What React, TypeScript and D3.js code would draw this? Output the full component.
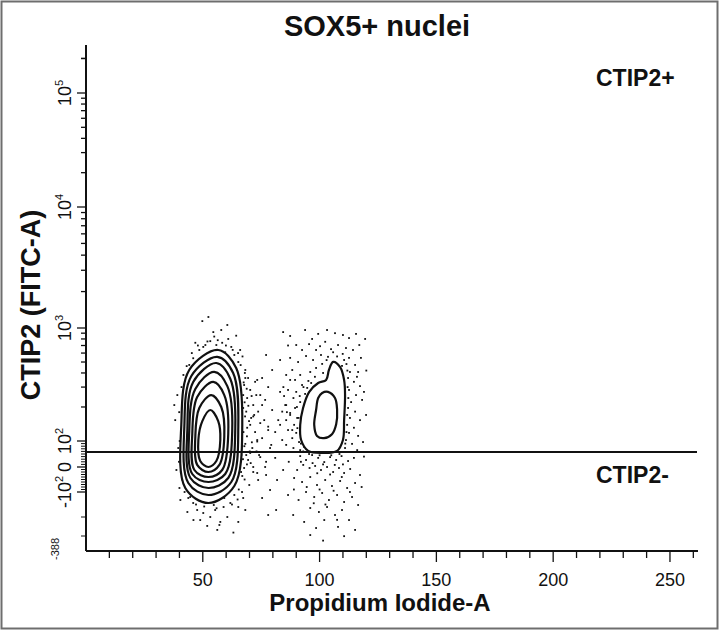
import React, { useEffect, useRef } from 'react';
import * as d3 from 'd3';

type Pt = [number, number];

// PI-A (linear) vs CTIP2 FITC-A (biexponential) values
const xMajorTicks = [50, 100, 150, 200, 250];
const xMinorTicks = [10, 20, 30, 40, 60, 70, 80, 90, 110, 120, 130, 140, 160, 170, 180, 190, 210, 220, 230, 240, 260];
const yDecades = [100, 1000, 10000, 100000];
const yDecadeLabels = [['10', '2'], ['10', '3'], ['10', '4'], ['10', '5']];
const yNegTicks = [-100];
const yMinorLinear = [-90, -80, -70, -60, -50, -40, -30, -20, -10, 10, 20, 30, 40, 50, 60, 70, 80, 90, -200, -300];
const gateValue = 58;

// G1 peak contour rings (outer -> inner)
const g1Rings: Pt[][] = [
  [[56.6, 639], [64.3, 442], [66.9, 139], [63.5, -76], [52.4, -144], [42.5, -84], [40.8, 139], [44.2, 425]],
  [[56.2, 556], [63.0, 400], [65.2, 134], [62.2, -60], [52.4, -112], [43.8, -64], [42.1, 134], [45.1, 376]],
  [[55.8, 490], [61.8, 354], [63.9, 128], [60.9, -44], [52.4, -84], [44.7, -44], [43.4, 128], [45.9, 333]],
  [[54.9, 409], [60.5, 306], [62.6, 123], [59.6, -28], [52.4, -60], [45.5, -28], [44.2, 123], [46.8, 289]],
  [[54.5, 333], [59.2, 255], [60.9, 116], [58.3, -12], [52.4, -40], [46.4, -12], [45.5, 116], [47.6, 245]],
  [[53.6, 255], [57.9, 200], [59.2, 109], [57.1, 8], [52.4, -20], [47.6, 8], [46.8, 109], [48.5, 196]],
  [[53.2, 188], [56.6, 150], [57.5, 102], [55.8, 23], [52.4, 0], [48.9, 23], [48.1, 102], [49.8, 150]],
];

// G2 peak contour rings (outer -> inner)
const g2Rings: Pt[][] = [
  [[105.8, 501], [108.8, 450], [110.5, 347], [110.9, 255], [110.5, 153], [110.0, 102], [107.5, 62], [101.1, 54],
   [95.1, 62], [92.1, 102], [91.7, 139], [92.9, 195], [95.5, 271], [99.4, 326], [102.8, 347], [104.0, 425]],
  [[103.6, 272], [106.6, 240], [107.5, 188], [107.1, 141], [105.3, 115], [101.9, 106], [98.9, 111], [97.7, 139],
   [98.5, 188], [99.4, 240], [101.1, 266]],
];

// outlier events around G1
const g1Dots: Pt[] = [
  [52.4, 1233], [49.8, 1140], [60.5, 1059], [54.5, 920], [57.9, 960], [46.8, 740], [53.2, 765], [58.3, 740],
  [60.9, 800], [62.2, 680], [50.2, 680], [55.8, 707], [45.9, 540], [48.5, 639], [59.6, 610], [63.5, 577],
  [44.2, 471], [65.2, 500], [51.1, 707], [54.9, 840], [64.3, 855], [66.0, 639],
  [68.2, 425], [69.4, 361], [67.7, 313], [70.3, 283], [72.4, 334], [69.0, 240], [71.6, 208], [74.6, 255],
  [68.6, 182], [70.7, 160], [73.7, 182], [76.3, 153], [69.0, 131], [72.4, 120], [75.4, 106], [68.2, 89],
  [71.2, 73], [74.1, 46], [69.4, 27], [67.7, -4], [71.6, -20], [77.1, 20], [78.8, 73], [78.0, 125],
  [67.3, 255], [68.6, 46], [66.9, -36], [73.7, -52], [69.9, -72], [77.1, -32], [66.5, 106], [67.3, 196],
  [70.3, 139], [73.3, 98], [72.9, 255], [75.4, 208], [68.2, 361], [66.5, 46],
  [39.1, 255], [38.2, 153], [39.5, 73], [38.7, -12], [40.0, -84], [37.8, 208], [41.7, 384], [40.4, -132], [42.9, 347],
  [45.9, -144], [47.6, -172], [50.2, -184], [53.2, -200], [55.3, -172], [57.5, -226], [61.8, -144], [65.2, -160],
  [60.5, -200], [56.2, -268], [48.9, -216], [65.2, -226], [43.8, -124], [59.2, -124], [63.5, -112], [67.3, -124],
  [51.9, -247], [43.4, -180], [68.2, -172], [63.1, -282], [54.7, -152], [46.0, -216], [57.1, -242],
  [67.0, 560], [66.2, 470], [68.0, 400], [67.5, 330], [68.8, 290], [67.9, 220], [69.5, 205], [68.1, 165],
  [69.8, 150], [67.4, 120], [68.9, 110], [67.8, 80], [70.1, 60], [67.2, 30], [68.9, 10], [66.4, -20],
  [67.9, -50], [65.4, -90], [66.8, -100], [64.9, -130], [62.5, -150], [58.9, -160], [55.9, -165], [50.6, -158],
  [47.1, -150], [44.6, -120], [42.2, -100], [41.1, -50], [39.8, 20], [40.1, 100], [39.9, 180], [40.9, 300],
  [43.1, 460], [45.3, 600], [47.9, 700], [52.0, 760], [56.4, 780], [59.9, 700], [62.8, 640], [65.1, 600],
  [70.9, 250], [72.0, 170], [71.0, 95], [73.0, 60], [70.5, 15],
];

// sparse events between the two peaks
const bridgeDots: Pt[] = [
  [75.4, 361], [78.0, 300], [73.3, 347], [76.7, 231], [71.6, 165], [74.6, 144], [78.0, 134], [73.3, 102],
  [70.3, 54], [74.6, 38], [71.6, 0], [76.7, 0], [81.8, -52], [73.3, -24], [81.0, 35], [84.0, 102],
  [82.3, 153], [85.3, 208], [83.1, 272], [79.7, 188], [81.0, 120], [84.4, -12], [78.8, -92], [75.4, -124],
  [86.5, -112], [81.4, -172], [79.7, 425], [87.4, 347], [77.1, 577], [83.1, 521], [79.3, 85], [86.1, 58],
  [88.3, 125], [87.4, 170], [78.0, -192],
];

// outlier events around G2
const g2Dots: Pt[] = [
  [84.4, 920], [87.4, 850], [93.8, 960], [96.8, 800], [99.4, 887], [103.2, 960], [106.6, 900], [110.0, 867],
  [112.6, 815], [115.6, 887], [90.0, 707], [92.5, 639], [95.5, 720], [100.2, 690], [102.4, 755], [107.9, 707],
  [111.3, 665], [114.3, 639], [117.0, 707], [87.4, 544], [90.8, 500], [94.2, 565], [97.2, 521], [100.6, 577],
  [103.6, 556], [112.6, 544], [115.2, 471], [117.7, 544], [110.5, 521], [98.5, 443], [101.1, 481], [109.6, 462],
  [113.0, 408], [116.5, 408], [88.3, 425], [91.7, 384], [85.7, 384], [96.0, 408], [105.8, 610], [98.5, 639],
  [89.5, 347], [92.5, 313], [86.5, 283], [90.0, 272], [93.8, 261], [88.8, 240], [91.7, 221], [85.7, 208],
  [89.5, 196], [87.4, 177], [90.4, 160], [85.7, 153], [89.1, 139], [86.5, 125], [90.0, 118], [88.3, 106],
  [91.2, 96], [85.7, 85], [88.8, 73], [91.7, 65], [93.4, 77], [84.0, 182], [83.1, 139], [84.8, 250],
  [94.7, 295], [96.4, 326],
  [112.2, 361], [114.7, 334], [117.3, 306], [112.6, 283], [115.6, 255], [113.5, 221], [118.2, 231], [112.2, 196],
  [115.2, 182], [113.0, 160], [117.3, 153], [111.8, 139], [114.7, 131], [112.6, 118], [116.5, 111], [111.3, 102],
  [113.9, 89], [110.9, 73], [116.1, 65], [118.6, 96], [119.9, 170], [119.0, 272],
  [91.7, 42], [94.2, 27], [96.8, 46], [99.4, 35], [102.0, 19], [104.5, 38], [107.1, 27], [109.4, 42],
  [112.2, 23], [114.7, 35], [93.0, 8], [95.7, -4], [98.1, 4], [100.6, -12], [103.2, 0], [105.8, -20],
  [108.3, -4], [110.5, -24], [113.1, -8], [90.4, -12], [89.1, -44], [92.5, -60], [96.0, -40], [98.9, -72],
  [102.4, -52], [105.3, -76], [108.8, -56], [111.8, -84], [115.2, -64], [117.3, -32], [94.2, -100], [97.7, -120],
  [101.1, -104], [104.0, -132], [107.5, -112], [110.5, -140], [113.9, -120], [91.0, -132], [96.0, -164], [99.7, -180],
  [103.2, -160], [106.6, -192], [109.6, -172], [116.5, -152], [88.7, -192], [93.4, -226], [98.5, -258], [102.0, -216],
  [107.9, -252], [112.6, -216], [115.2, -268], [101.5, -327], [96.0, -295], [110.5, -301],
  [91.0, 160], [90.3, 200], [91.5, 250], [93.1, 300], [95.2, 340], [98.0, 370], [101.5, 400], [103.0, 520],
  [104.9, 650], [107.5, 560], [109.9, 590], [111.5, 480], [111.9, 420], [112.0, 300], [112.3, 240], [111.8, 170],
  [111.5, 120], [111.0, 90], [108.5, 50], [105.0, 45], [100.0, 45], [95.5, 50], [93.0, 60], [92.0, 90],
  [90.5, 130], [97.0, 15], [101.5, 10], [106.5, 8], [110.0, 10], [92.0, 20], [99.0, -25], [104.5, -30],
  [109.5, -40], [94.5, -80], [100.0, -90], [106.0, -95], [113.0, -100], [97.5, -145], [102.5, -150], [107.5, -215],
  [119.0, 40], [118.0, -80], [89.0, -90], [86.8, 20], [86.0, 180], [84.5, 300], [116.0, 370], [120.0, 420],
  [86.5, 700], [119.5, 800],
];

const FONT = "'Liberation Sans', Arial, Helvetica, sans-serif";

const App: React.FC = () => {
  const svgRef = useRef<SVGSVGElement>(null);

  useEffect(() => {
    if (!svgRef.current) return;
    const svg = d3.select(svgRef.current);
    svg.selectAll('*').remove();

    const left = 86, right = 698, top = 45, bottom = 551;
    const x = d3.scaleLinear().domain([0, 262]).range([left, right]);
    // biexponential axis: log part above 10^2, near-linear part around zero
    const yLog = d3.scaleLog().domain([100, 1e3, 1e4, 1e5, 262143]).range([441, 328, 207, 93, top]);
    const yLin = d3.scaleLinear().domain([-388, -300, -200, -100, 0, 100]).range([bottom, 536, 517, 492, 467, 441]);
    const y = (v: number) => (v >= 100 ? yLog(v) : yLin(v));

    // outer frame
    svg.append('rect')
      .attr('x', 1.5).attr('y', 1.5).attr('width', 716).attr('height', 627)
      .attr('fill', 'white').attr('stroke', '#6e6e6e').attr('stroke-width', 2);

    // events
    const dots = [...g1Dots, ...bridgeDots, ...g2Dots];
    svg.append('g').selectAll('rect').data(dots).join('rect')
      .attr('x', d => x(d[0]) - 0.9).attr('y', d => y(d[1]) - 0.9)
      .attr('width', 1.8).attr('height', 1.8).attr('fill', '#111');

    const line = d3.line<Pt>()
      .x(d => x(d[0])).y(d => y(d[1]))
      .curve(d3.curveCatmullRomClosed.alpha(0.5));

    const contours = svg.append('g');
    [g1Rings[0], g2Rings[0]].forEach(r => {
      contours.append('path').attr('d', line(r)!).attr('fill', 'white');
    });
    [...g1Rings, ...g2Rings].forEach(r => {
      contours.append('path').attr('d', line(r)!)
        .attr('fill', 'none').attr('stroke', '#111').attr('stroke-width', 2.2);
    });

    // gate line
    svg.append('line')
      .attr('x1', left).attr('x2', right - 1).attr('y1', y(gateValue)).attr('y2', y(gateValue))
      .attr('stroke', '#111').attr('stroke-width', 2);

    // x axis
    const xa = svg.append('g').attr('stroke', '#111');
    xa.append('line').attr('x1', left).attr('x2', right).attr('y1', bottom).attr('y2', bottom).attr('stroke-width', 2);
    xMinorTicks.forEach(t => {
      xa.append('line').attr('x1', x(t)).attr('x2', x(t)).attr('y1', bottom).attr('y2', bottom + 7).attr('stroke-width', 1.3);
    });
    xMajorTicks.forEach(t => {
      xa.append('line').attr('x1', x(t)).attr('x2', x(t)).attr('y1', bottom).attr('y2', bottom + 11).attr('stroke-width', 1.3);
    });
    svg.append('g').selectAll('text').data(xMajorTicks).join('text')
      .attr('x', d => x(d)).attr('y', 586)
      .attr('text-anchor', 'middle').attr('font-family', FONT).attr('font-size', 18).attr('fill', '#111')
      .text(d => d);

    // y axis
    const ya = svg.append('g').attr('stroke', '#111');
    ya.append('line').attr('x1', left).attr('x2', left).attr('y1', top).attr('y2', bottom).attr('stroke-width', 2);
    const logMinor: number[] = [];
    yDecades.forEach(dec => {
      for (let k = 2; k <= 9; k++) {
        if (dec * k <= 262143) logMinor.push(dec * k);
      }
    });
    logMinor.push(200000);
    logMinor.forEach(v => {
      ya.append('line').attr('x1', left - 5).attr('x2', left).attr('y1', yLog(v)).attr('y2', yLog(v)).attr('stroke-width', 1.3);
    });
    yMinorLinear.forEach(v => {
      ya.append('line').attr('x1', left - 5).attr('x2', left).attr('y1', yLin(v)).attr('y2', yLin(v)).attr('stroke-width', 1);
    });
    [...yDecades, 0, ...yNegTicks].forEach(v => {
      ya.append('line').attr('x1', left - 9).attr('x2', left).attr('y1', y(v)).attr('y2', y(v)).attr('stroke-width', 1.3);
    });

    const tickLabel = (v: number, base: string, exp: string) => {
      const t = svg.append('text')
        .attr('transform', `translate(71,${y(v)}) rotate(-90)`)
        .attr('text-anchor', 'middle').attr('font-family', FONT).attr('font-size', 18).attr('fill', '#111');
      t.append('tspan').text(base);
      if (exp) t.append('tspan').attr('dy', -8).attr('font-size', 11).text(exp);
    };
    yDecades.forEach((v, i) => tickLabel(v, yDecadeLabels[i][0], yDecadeLabels[i][1]));
    tickLabel(0, '0', '');
    tickLabel(-100, '-10', '2');
    svg.append('text')
      .attr('transform', `translate(59,${bottom - 2}) rotate(-90)`)
      .attr('text-anchor', 'middle').attr('font-family', FONT).attr('font-size', 11).attr('fill', '#111')
      .text('-388');

    // titles
    svg.append('text').attr('x', 377).attr('y', 36).attr('text-anchor', 'middle')
      .attr('font-family', FONT).attr('font-weight', 'bold').attr('font-size', 29).attr('fill', '#111')
      .text('SOX5+ nuclei');
    svg.append('text').attr('x', 380).attr('y', 611).attr('text-anchor', 'middle')
      .attr('font-family', FONT).attr('font-weight', 'bold').attr('font-size', 24).attr('fill', '#111')
      .text('Propidium Iodide-A');
    svg.append('text').attr('transform', 'translate(40,305) rotate(-90)').attr('text-anchor', 'middle')
      .attr('font-family', FONT).attr('font-weight', 'bold').attr('font-size', 27).attr('fill', '#111')
      .text('CTIP2 (FITC-A)');
    svg.append('text').attr('x', 596).attr('y', 86)
      .attr('font-family', FONT).attr('font-weight', 'bold').attr('font-size', 23).attr('fill', '#111')
      .text('CTIP2+');
    svg.append('text').attr('x', 596).attr('y', 483)
      .attr('font-family', FONT).attr('font-weight', 'bold').attr('font-size', 23).attr('fill', '#111')
      .text('CTIP2-');
  }, []);

  return (
    <div style={{ position: 'absolute', left: 0, top: 0 }}>
      <svg ref={svgRef} width={720} height={632} viewBox="0 0 720 632" />
    </div>
  );
};

export default App;
